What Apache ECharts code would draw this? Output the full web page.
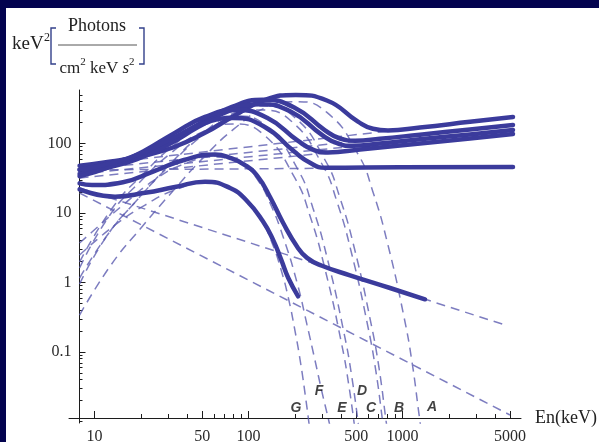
<!DOCTYPE html>
<html><head><meta charset="utf-8">
<script src="https://cdn.jsdelivr.net/npm/echarts@6/dist/echarts.min.js"></script>
<style>html,body{margin:0;padding:0;background:#fff;}#c{width:599px;height:442px;}</style>
</head><body><div id="c"></div>
<script>
// ---- tick labels / axis ranges ----
const xTicks = [10, 50, 100, 500, 1000, 5000];
const xMinorTicks = [20,30,40,60,70,80,90,200,300,400,600,700,800,900,2000,3000,4000];
const yTicks = [0.1, 1, 10, 100];
const yMinorTicks = [0.01,0.02,0.03,0.04,0.05,0.06,0.07,0.08,0.09,0.2,0.3,0.4,0.5,0.6,0.7,0.8,0.9,2,3,4,5,6,7,8,9,20,30,40,50,60,70,80,90,200,300,400,500];
const xRange = [6.83, 5883];
const yRange = [0.009515, 588.6];
const labelPoints = [[1555,0.0162,'A'],[949,0.01565,'B'],[624,0.01565,'C'],[546,0.0275,'D'],[405,0.01565,'E'],[287,0.0275,'F'],[203,0.01565,'G']];

// ---- total spectra (solid) : [keV, keV^2 photons/cm2/keV/s] ----
const totalA = [[8,47.9],[12.8,55.1],[20.3,66.1],[32.3,87.6],[51.4,140],[80.5,249],[128,423],[203,500],[323,416],[514,207],[643,163],[805,154],[1299,170],[2743,205],[5220,241]];
const totalB = [[8,42.1],[12.4,51.2],[19.7,68.3],[31.4,109],[49.2,199],[78.1,336],[124,425],[198,330],[314,155],[393,118],[492,110],[714,117],[1299,134],[2743,159],[5220,185]];
const totalC = [[8,36.6],[11.9,44.4],[18.9,59.8],[30,95.8],[47,172],[74.7,294],[119,366],[189,286],[300,133],[376,101],[470,92.7],[714,100],[1299,115],[2743,135],[5220,156]];
const totalD = [[8,33.8],[13.2,48.1],[21,78],[32.8,140],[52.2,241],[83,303],[132,234],[210,109],[262,81.7],[328,74.5],[530,82],[1299,100],[2743,118],[5220,137]];
const totalE = [[8,42],[12.6,51.4],[20,71.8],[31.4,116],[49.9,190],[79.3,233],[126,176],[200,75.2],[251,52.8],[314,44.6],[963,45.5],[5220,45.9]];
const totalF = [[8,26.7],[9.63,25.3],[15.3,27.7],[24,39.5],[38.1,57.9],[60.6,69.2],[75.9,62.3],[94.9,49],[115,33.3],[138,17],[168,7.17],[207,3.28],[240,2.26],[300,1.74],[456,1.27],[830,0.833],[1400,0.573]];
const totalG = [[8,21.9],[13.6,17.2],[21.3,19.5],[33.3,23.6],[52.2,28.2],[75.9,22.9],[97.8,14.9],[124,7.6],[144,4.17],[163,2.13],[181,1.17],[210,0.633]];

// ---- cutoff components (dashed) ----
const cutoffA = [[8,0.34],[12.8,1.79],[20.3,6.29],[32.3,20.7],[51.4,63.9],[80.5,162],[128,324],[203,400],[323,280],[514,70.6],[643,20.1],[805,3.46],[1023,0.319],[1153,0.0718],[1280,0.0128],[1443,0.00182]];
const cutoffB = [[8,1.16],[12.4,5.15],[19.7,17],[31.4,52.4],[49.2,133],[78.1,266],[124,346],[198,241],[314,57.9],[393,16.4],[492,2.84],[624,0.261],[704,0.0589],[781,0.0105],[881,0.00149]];
const cutoffC = [[8,0.951],[11.9,4.51],[18.9,15.4],[30,45.9],[47,116],[74.7,233],[119,303],[189,211],[300,50.7],[376,14.4],[470,2.49],[597,0.229],[673,0.0516],[747,0.0092],[842,0.0013]];
const cutoffD = [[8,1.97],[13.2,12.2],[21,37.6],[32.8,95.1],[52.2,191],[83,249],[132,173],[210,41.6],[262,11.8],[328,2.04],[417,0.188],[470,0.0423],[522,0.00754]];
const cutoffE = [[8,1.62],[12.6,9.36],[20,28.9],[31.4,73],[49.9,146],[79.3,191],[126,133],[200,31.9],[251,9.05],[314,1.56],[399,0.144],[449,0.0324],[499,0.00579]];
const cutoffF = [[8,3.7],[9.63,5.33],[15.3,13],[24,28.9],[38.1,50.7],[60.6,63.9],[75.9,59.8],[94.9,47.5],[115,29.8],[138,13.9],[168,4.51],[207,0.983],[240,0.245],[270,0.0767],[300,0.0266],[328,0.0116],[354,0.00542]];
const cutoffG = [[8,2.49],[13.6,6.72],[21.3,13],[33.3,21.4],[52.2,27],[75.9,22.1],[97.8,14.4],[124,7.18],[144,3.46],[163,1.51],[181,0.618],[200,0.207],[219,0.065],[236,0.0204],[247,0.0095],[255,0.00542]];

// ---- power-law components (dashed) ----
const powerA = [[8,47.5],[5220,241]];
const powerB = [[8,41.6],[5220,185]];
const powerC = [[8,36.4],[5220,156]];
const powerD = [[8,31.9],[5220,137]];
const powerE = [[8,41.6],[5220,45.9]];
const powerF = [[8,22.9],[4630,0.245]];
const powerG = [[8,19.4],[4990,0.0124]];

const totals = [totalA,totalB,totalC,totalD,totalE,totalF,totalG];
const cutoffs = [cutoffA,cutoffB,cutoffC,cutoffD,cutoffE,cutoffF,cutoffG];
const powers = [powerA,powerB,powerC,powerD,powerE,powerF,powerG];

const SERIF = '"Liberation Serif","Times New Roman",serif';
const NAVY = '#03034f';
const SOLID = '#3b3b9c';
const DASH = 'rgba(92,92,176,0.8)';
const AXIS = '#1c1c1c';
const lg = Math.log10;

function tickFmt(list){
  return v => { const t = list.find(t => Math.abs(lg(t) - v) < 1e-6); return t === undefined ? '' : String(t); };
}

const series = [];
powers.forEach((d,i) => series.push({type:'line', name:'pl'+i, data:d, xAxisIndex:0, yAxisIndex:0, symbol:'none', silent:true,
  lineStyle:{color:DASH, width:1.5, type:[9,6]}, z:2}));
cutoffs.forEach((d,i) => series.push({type:'line', name:'cpl'+i, data:d, xAxisIndex:0, yAxisIndex:0, symbol:'none', silent:true,
  smooth:0.5, lineStyle:{color:DASH, width:1.5, type:[9,6]}, z:2}));
totals.forEach((d,i) => series.push({type:'line', name:'tot'+i, data:d, xAxisIndex:0, yAxisIndex:0, symbol:'none', silent:true,
  smooth:0.5, lineStyle:{color:SOLID, width:4.5, cap:'round', join:'round'}, z:3}));
series.push({type:'scatter', data:labelPoints, xAxisIndex:0, yAxisIndex:0, symbolSize:0.1, silent:true,
  itemStyle:{color:'rgba(0,0,0,0)'}, z:5,
  label:{show:true, position:'inside', formatter:p => p.value[2], fontFamily:'"Liberation Sans",Arial,sans-serif',
    fontWeight:'bold', fontStyle:'italic', fontSize:14, color:'#111'}});

const chart = echarts.init(document.getElementById('c'), null, {renderer:'canvas'});
chart.setOption({
  animation:false,
  backgroundColor:'#ffffff',
  grid:{left:69, right:78, top:90, bottom:19, containLabel:false, outerBoundsMode:'none'},
  xAxis:[
    {type:'log', logBase:10, min:xRange[0], max:xRange[1], show:false, position:'bottom', axisLine:{onZero:false}},
    {type:'value', min:lg(xRange[0]), max:lg(xRange[1]), position:'bottom', offset:-5,
      axisLine:{show:true, onZero:false, lineStyle:{color:AXIS, width:1}},
      axisTick:{show:true, inside:true, length:7, customValues:xTicks.map(lg), lineStyle:{color:AXIS, width:1}},
      axisLabel:{show:true, customValues:xTicks.map(lg), formatter:tickFmt(xTicks), margin:11,
        fontFamily:SERIF, fontSize:16, color:'#2a2a2a'},
      splitLine:{show:false},
      name:'En(keV)', nameLocation:'end', nameGap:14,
      nameTextStyle:{fontFamily:SERIF, fontSize:18, color:'#222', align:'left', verticalAlign:'middle'}},
    {type:'value', min:lg(xRange[0]), max:lg(xRange[1]), position:'bottom', offset:-5,
      axisLine:{show:false, onZero:false},
      axisTick:{show:true, inside:true, length:4, customValues:xMinorTicks.map(lg), lineStyle:{color:AXIS, width:1}},
      axisLabel:{show:false}, splitLine:{show:false}}
  ],
  yAxis:[
    {type:'log', logBase:10, min:yRange[0], max:yRange[1], show:false, position:'left', axisLine:{onZero:false}},
    {type:'value', min:lg(yRange[0]), max:lg(yRange[1]), position:'left', offset:-10.5,
      axisLine:{show:true, onZero:false, lineStyle:{color:AXIS, width:1}},
      axisTick:{show:true, inside:true, length:6, customValues:yTicks.map(lg), lineStyle:{color:AXIS, width:1}},
      axisLabel:{show:true, customValues:yTicks.map(lg), formatter:tickFmt(yTicks), margin:8,
        fontFamily:SERIF, fontSize:16, color:'#2a2a2a'},
      splitLine:{show:false}},
    {type:'value', min:lg(yRange[0]), max:lg(yRange[1]), position:'left', offset:-10.5,
      axisLine:{show:false, onZero:false},
      axisTick:{show:true, inside:true, length:3, customValues:yMinorTicks.map(lg), lineStyle:{color:AXIS, width:1}},
      axisLabel:{show:false}, splitLine:{show:false}}
  ],
  series:series,
  graphic:[
    {type:'rect', shape:{x:0,y:0,width:599,height:8}, style:{fill:NAVY}, silent:true, z:100},
    {type:'rect', shape:{x:0,y:0,width:6,height:442}, style:{fill:NAVY}, silent:true, z:100},
    {type:'text', x:12, y:44, style:{text:'keV', fontFamily:SERIF, fontSize:19, fill:'#222', verticalAlign:'middle'}, silent:true},
    {type:'text', x:44, y:38, style:{text:'2', fontFamily:SERIF, fontSize:12, fill:'#222', verticalAlign:'middle'}, silent:true},
    {type:'polyline', shape:{points:[[56,28],[51,28],[51,64],[56,64]]}, style:{stroke:'#33408a', lineWidth:1.4, fill:null}, silent:true},
    {type:'text', x:97, y:26, style:{text:'Photons', fontFamily:SERIF, fontSize:18, fill:'#222', align:'center', verticalAlign:'middle'}, silent:true},
    {type:'line', shape:{x1:58,y1:45,x2:137,y2:45}, style:{stroke:'#555', lineWidth:1}, silent:true},
    {type:'text', x:97, y:67, style:{
      text:'{n|cm}{s|2}{n| keV }{i|s}{s|2}', align:'center', verticalAlign:'middle', fill:'#222',
      rich:{
        n:{fontFamily:SERIF, fontSize:17, lineHeight:20, verticalAlign:'bottom', fill:'#222'},
        i:{fontFamily:SERIF, fontSize:17, fontStyle:'italic', lineHeight:20, verticalAlign:'bottom', fill:'#222'},
        s:{fontFamily:SERIF, fontSize:11, lineHeight:20, verticalAlign:'top', fill:'#222'}
      }}, silent:true},
    {type:'polyline', shape:{points:[[139,28],[144,28],[144,64],[139,64]]}, style:{stroke:'#33408a', lineWidth:1.4, fill:null}, silent:true}
  ]
});
</script></body></html>
